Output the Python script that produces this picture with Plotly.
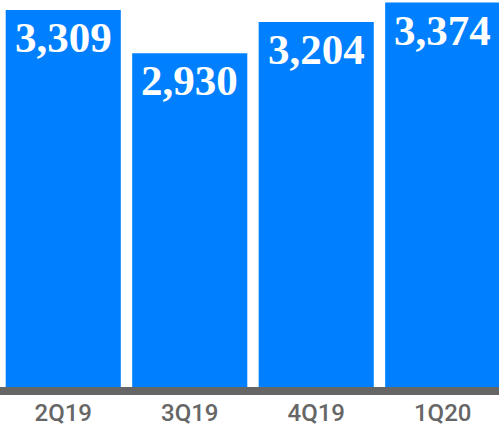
import plotly.graph_objects as go

quarters = ["2Q19", "3Q19", "4Q19", "1Q20"]
values = [3309, 2930, 3204, 3374]
labels = ["3,309", "2,930", "3,204", "3,374"]

BLUE = "#0080FF"
GRAY = "#666666"

fig = go.Figure()
fig.add_trace(go.Bar(
    x=quarters, y=values, marker=dict(color=BLUE, line=dict(width=0)),
    hoverinfo="skip",
))

for q, v, t in zip(quarters, values, labels):
    fig.add_annotation(
        x=q, y=v, text="<b>%s</b>" % t, showarrow=False,
        xanchor="center", yanchor="top", yshift=-2,
        font=dict(family="Liberation Serif", size=43, color="white"),
    )

fig.update_layout(
    width=499, height=424,
    margin=dict(l=0, r=0, t=0, b=37),
    paper_bgcolor="white", plot_bgcolor="white",
    bargap=0.09,
    showlegend=False,
    xaxis=dict(
        type="category", range=[-0.5, 3.445], automargin=False,
        showline=True, linewidth=8, linecolor=GRAY,
        showgrid=False, zeroline=False, ticks="",
        ticklabelstandoff=-3,
        tickfont=dict(family="Roboto", size=24, color=GRAY, weight=500),
    ),
    yaxis=dict(
        range=[0, 3397], visible=False, showgrid=False, zeroline=False,
        automargin=False,
    ),
)

fig.write_html(
    "out.html",
    config={"displayModeBar": False},
    post_script="document.body.style.margin='0';document.body.style.overflow='hidden';",
)
